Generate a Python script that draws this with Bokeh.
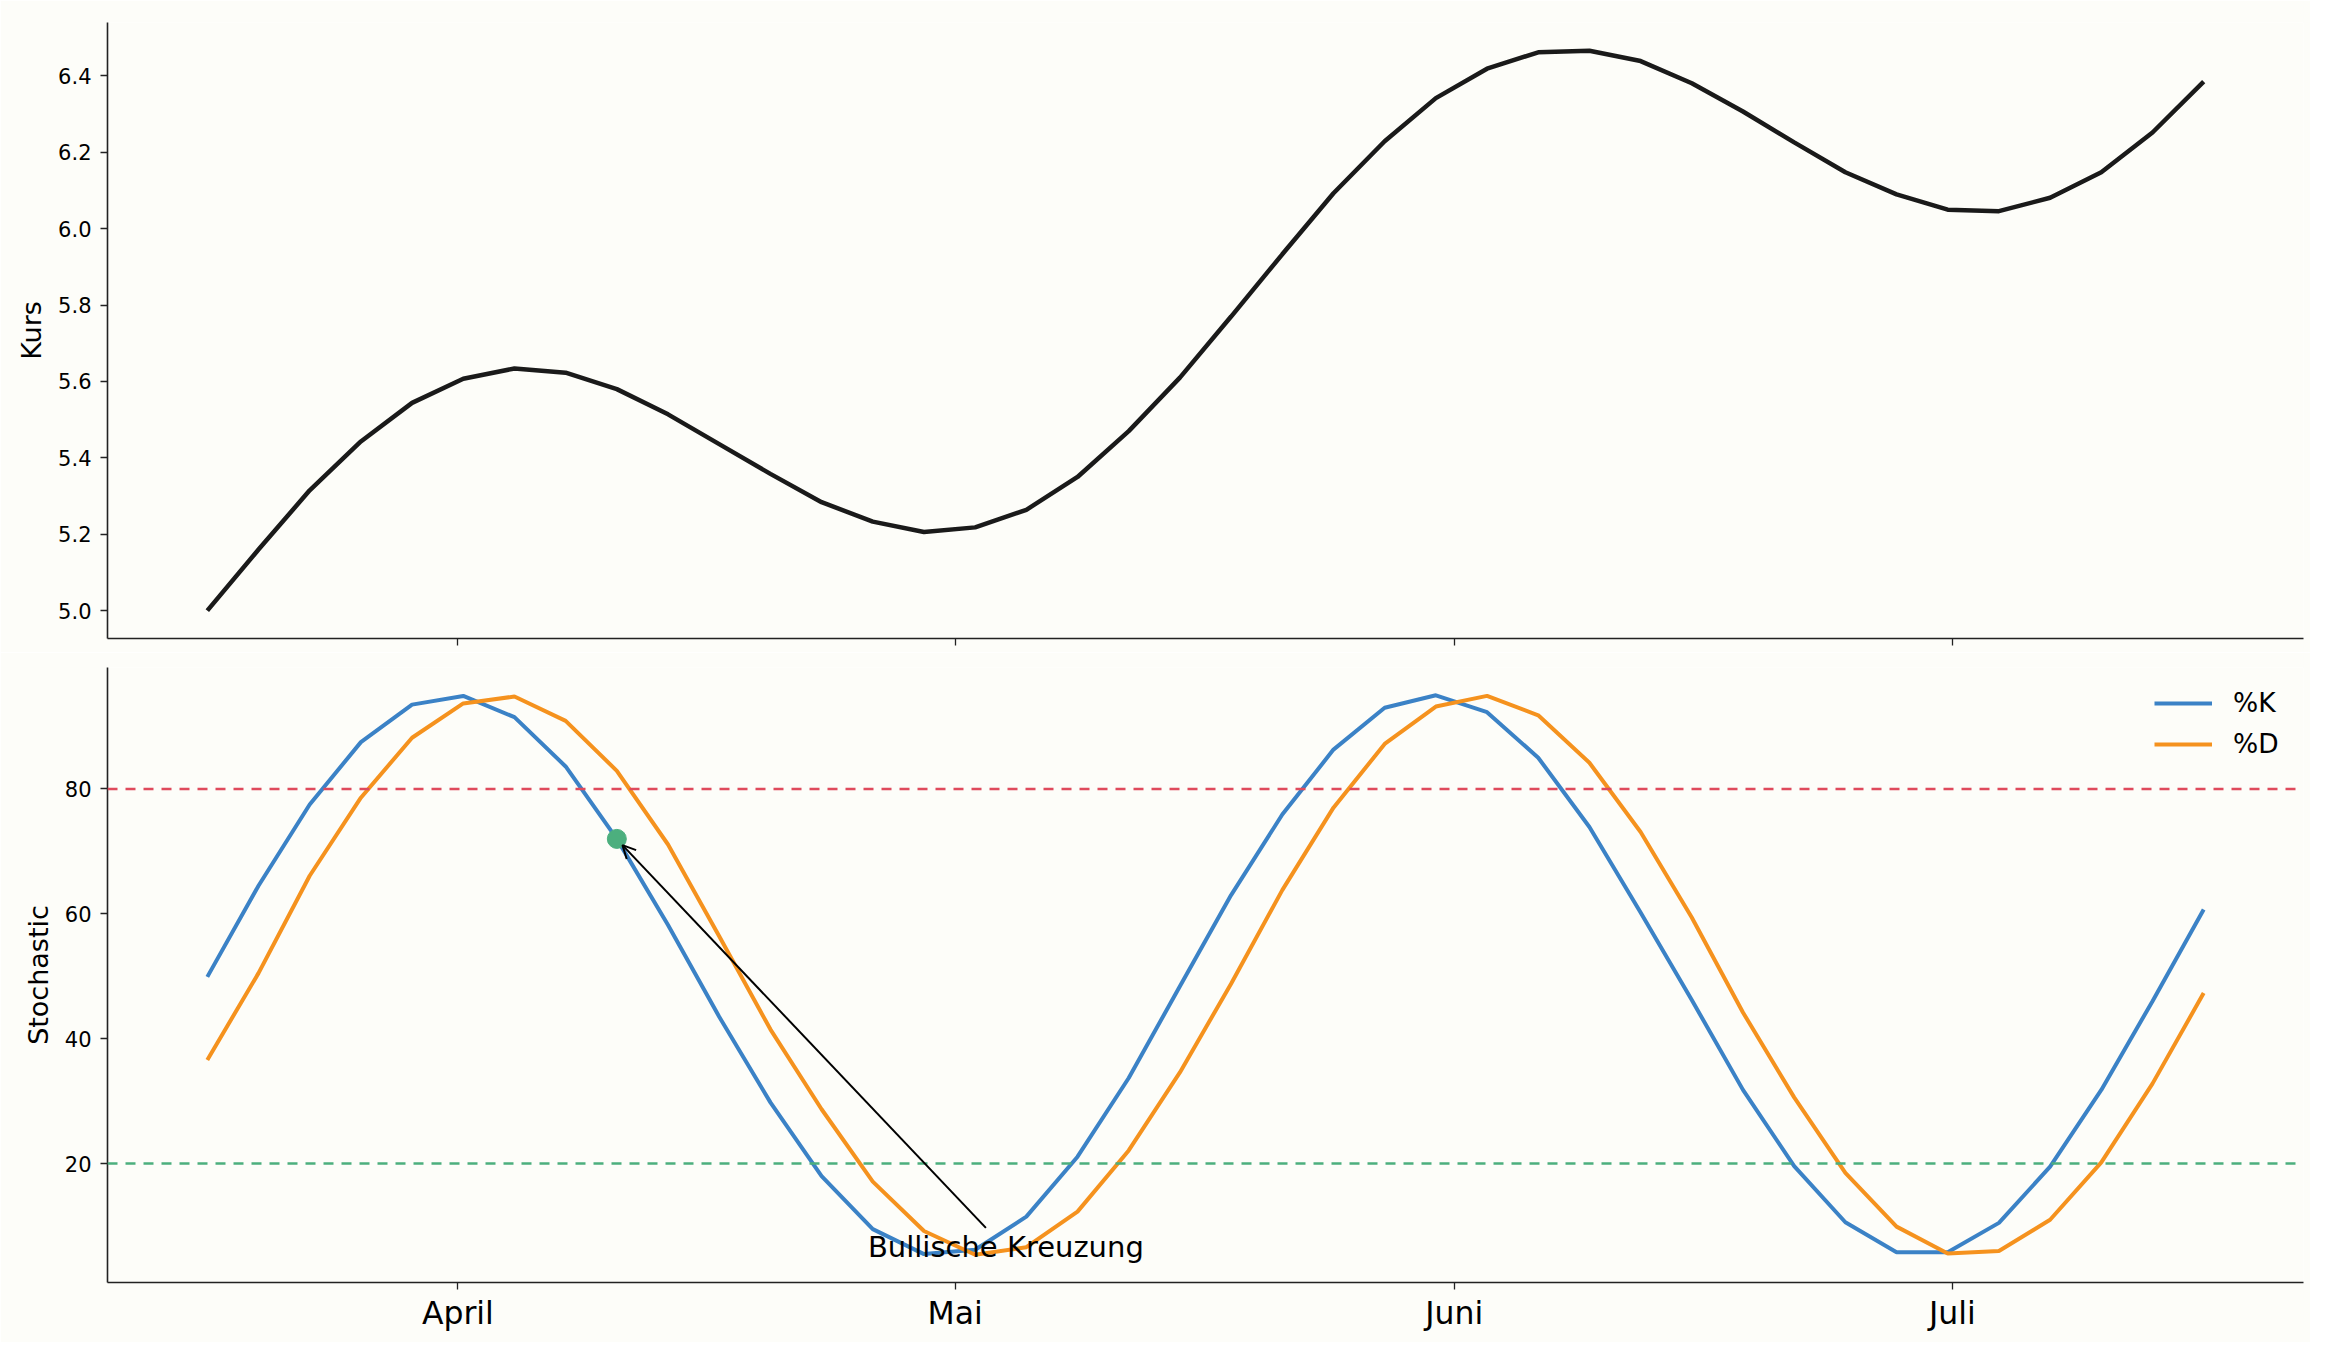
from bokeh.plotting import figure
from bokeh.embed import file_html
from bokeh.resources import INLINE
from bokeh.models import (ColumnDataSource, Span, Arrow, OpenHead, FixedTicker,
                          Range1d, Legend, LegendItem, PrintfTickFormatter)
from bokeh.layouts import column
from bokeh.core.properties import value

# chart data
idx = list(range(40))
kurs = [5.00, 5.16, 5.315, 5.443, 5.544, 5.607, 5.634, 5.623, 5.58, 5.514,
        5.436, 5.358, 5.284, 5.233, 5.206, 5.218, 5.264, 5.35, 5.47, 5.61,
        5.77, 5.933, 6.093, 6.229, 6.342, 6.419, 6.462, 6.466, 6.439, 6.381,
        6.307, 6.226, 6.148, 6.09, 6.05, 6.046, 6.081, 6.148, 6.252, 6.385]
pct_k = [49.9, 64.5, 77.5, 87.5, 93.5, 94.9, 91.5, 83.6, 72.0, 58.2,
         43.5, 29.8, 18.0, 9.5, 5.5, 6.2, 11.5, 21.1, 33.7, 48.4,
         63.0, 75.9, 86.3, 93.0, 95.0, 92.3, 85.0, 73.9, 60.2, 46.2,
         31.8, 19.6, 10.6, 5.8, 5.8, 10.5, 19.5, 31.8, 46.0, 60.7]
pct_d = [36.6, 50.5, 66.1, 78.6, 88.2, 93.7, 94.8, 90.9, 82.9, 71.1,
         56.4, 41.5, 28.7, 17.1, 9.2, 5.4, 6.6, 12.3, 22.1, 34.6,
         48.8, 63.8, 77.0, 87.2, 93.2, 94.9, 91.8, 84.2, 73.1, 59.4,
         44.2, 30.6, 18.5, 9.9, 5.6, 6.0, 11.0, 20.2, 32.8, 47.3]
month_pos = [4.895, 14.61, 24.36, 34.09]
month_labels = ["April", "Mai", "Juni", "Juli"]
kurs_ticks = [5.0, 5.2, 5.4, 5.6, 5.8, 6.0, 6.2, 6.4]
stoch_ticks = [20, 40, 60, 80]
overbought = 80
oversold = 20
cross_idx = 8
note_text = "Bullische Kreuzung"
note_x, note_y = 15.6, 6.6
arrow_tail = (15.21, 9.7)

BG = "#fdfdf9"
FONT = "DejaVu Sans"
BLUE = "#3b82c6"
ORANGE = "#f5921e"
RED = "#df4a5c"
GREEN = "#4caf7e"

src = ColumnDataSource(data=dict(x=idx, kurs=kurs, k=pct_k, d=pct_d))
x_range = Range1d(-1.95, 40.95)


def style(p):
    p.background_fill_color = BG
    p.border_fill_color = BG
    p.outline_line_color = None
    p.grid.grid_line_color = None
    for ax in (p.xaxis[0], p.yaxis[0]):
        ax.axis_line_color = "#222222"
        ax.axis_line_width = 1.6
        ax.major_tick_line_color = "#222222"
        ax.major_tick_line_width = 1.3
        ax.major_tick_in = 0
        ax.major_tick_out = 7
        ax.minor_tick_line_color = None
        ax.major_label_text_font = FONT
        ax.major_label_text_color = "black"
        ax.axis_label_text_font = FONT
        ax.axis_label_text_font_style = "normal"
        ax.axis_label_text_color = "black"
    p.yaxis.major_label_text_font_size = "21px"
    p.yaxis.major_label_standoff = 9
    p.yaxis.axis_label_text_font_size = "27px"
    p.yaxis.axis_label_standoff = 8
    p.xaxis.ticker = FixedTicker(ticks=month_pos)


# --- top: price ---
top = figure(width=2310, height=652, x_range=x_range, y_range=Range1d(4.927, 6.540),
             output_backend="svg", toolbar_location=None, tools="",
             min_border_left=107, min_border_right=7, min_border_top=22,
             min_border_bottom=14)
style(top)
top.line("x", "kurs", source=src, color="#1a1a1a", line_width=4.5)
top.yaxis.axis_label = "Kurs"
top.yaxis.ticker = FixedTicker(ticks=kurs_ticks)
top.yaxis.formatter = PrintfTickFormatter(format="%.1f")
top.xaxis.major_label_overrides = {v: "" for v in month_pos}
top.xaxis.major_label_text_font_size = "1px"

# --- bottom: stochastic ---
bot = figure(width=2310, height=690, x_range=x_range, y_range=Range1d(0.95, 99.45),
             output_backend="svg", toolbar_location=None, tools="",
             min_border_left=107, min_border_right=7, min_border_top=15,
             min_border_bottom=60)
style(bot)
bot.add_layout(Span(location=overbought, dimension="width", line_color=RED,
                    line_width=2.5, line_dash="10 8"))
bot.add_layout(Span(location=oversold, dimension="width", line_color=GREEN,
                    line_width=2.5, line_dash="10 8"))
k_line = bot.line("x", "k", source=src, color=BLUE, line_width=4)
d_line = bot.line("x", "d", source=src, color=ORANGE, line_width=4)
bot.scatter([idx[cross_idx]], [pct_k[cross_idx]], size=19, color=GREEN)

bot.add_layout(Arrow(end=OpenHead(size=13, line_width=2, line_color="black"),
                     x_start=arrow_tail[0], y_start=arrow_tail[1],
                     x_end=idx[cross_idx] + 0.11, y_end=pct_k[cross_idx] - 1.0,
                     line_width=2, line_color="black"))
bot.text([note_x], [note_y], text=[note_text], text_font=value(FONT),
         text_font_size="29px", text_align="center", text_baseline="alphabetic",
         text_color="black")

bot.yaxis.axis_label = "Stochastic"
bot.yaxis.ticker = FixedTicker(ticks=stoch_ticks)
bot.xaxis.major_label_overrides = dict(zip(month_pos, month_labels))
bot.xaxis.major_label_text_font_size = "31.5px"
bot.xaxis.major_label_standoff = 5

legend = Legend(items=[LegendItem(label="%K", renderers=[k_line]),
                       LegendItem(label="%D", renderers=[d_line])],
                location="top_right")
legend.background_fill_alpha = 0
legend.border_line_alpha = 0
legend.margin = 12
legend.padding = 8
legend.spacing = 10
legend.glyph_width = 58
legend.glyph_height = 30
legend.label_height = 30
legend.label_width = 50
legend.label_standoff = 21
legend.label_text_font = FONT
legend.label_text_font_size = "26.5px"
legend.label_text_color = "black"
bot.add_layout(legend)

p = column(top, bot)
open("out.html", "w").write(file_html(p, INLINE))
